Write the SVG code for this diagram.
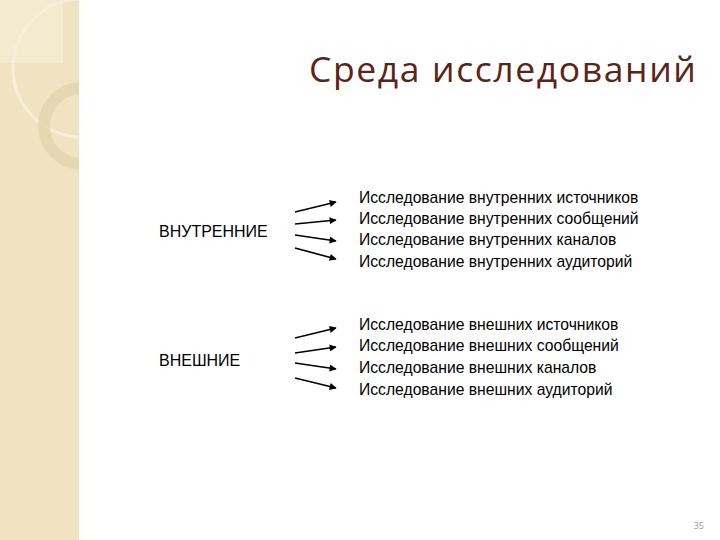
<svg xmlns="http://www.w3.org/2000/svg" width="720" height="540" viewBox="0 0 720 540">
<defs>
<marker id="ah" viewBox="0 0 10 10" refX="9" refY="5" markerWidth="9" markerHeight="7" markerUnits="userSpaceOnUse" orient="auto"><path d="M0,0 L10,5 L0,10 z" fill="#000"/></marker>
<clipPath id="sb"><rect x="0" y="0" width="79" height="540"/></clipPath>
</defs>
<style>
.item{font-family:"Liberation Sans",Arial,sans-serif;font-size:15.7px;fill:#000}
.lbl{font-family:"Liberation Sans",Arial,sans-serif;font-size:16px;fill:#000}
.arr{stroke:#000;stroke-width:1.6;fill:none;marker-end:url(#ah)}
</style>
<rect width="720" height="540" fill="#fff"/>
<g id="sidebar" clip-path="url(#sb)">
<rect x="0" y="0" width="79" height="540" fill="#efe3c1"/>
<rect x="0" y="0" width="63" height="63" fill="#f4ead0"/>
<circle cx="82" cy="68" r="69" fill="none" stroke="#f7efd9" stroke-width="3"/>
<circle cx="82" cy="126" r="38" fill="none" stroke="#e2d6b0" stroke-width="12" opacity="0.85"/>
</g>
<text x="309" y="82" font-family="'Open Sans','Noto Sans',sans-serif" font-size="35.5" letter-spacing="1.6" fill="#5a2418">Среда исследований</text>
<g id="internal"><text class="lbl" x="159" y="237">ВНУТРЕННИЕ</text></g>
<g id="external"><text class="lbl" x="159" y="366">ВНЕШНИЕ</text></g>
<g id="internal-items">
<text class="item" x="359" y="203">Исследование внутренних источников</text>
<text class="item" x="359" y="224">Исследование внутренних сообщений</text>
<text class="item" x="359" y="245">Исследование внутренних каналов</text>
<text class="item" x="359" y="267">Исследование внутренних аудиторий</text>
</g>
<g id="external-items">
<text class="item" x="359" y="330">Исследование внешних источников</text>
<text class="item" x="359" y="351">Исследование внешних сообщений</text>
<text class="item" x="359" y="373">Исследование внешних каналов</text>
<text class="item" x="359" y="395">Исследование внешних аудиторий</text>
</g>
<g id="connectors">
<line class="arr" x1="295" y1="212" x2="336" y2="202"/>
<line class="arr" x1="295" y1="224" x2="336" y2="220"/>
<line class="arr" x1="295" y1="235" x2="336" y2="241"/>
<line class="arr" x1="295" y1="248" x2="336" y2="259"/>
<line class="arr" x1="295" y1="338" x2="336" y2="328"/>
<line class="arr" x1="295" y1="353" x2="336" y2="347"/>
<line class="arr" x1="295" y1="363" x2="336" y2="369"/>
<line class="arr" x1="295" y1="378" x2="336" y2="388"/>
</g>
<text x="704" y="529" text-anchor="end" font-family="'Open Sans',sans-serif" font-size="9" fill="#999">35</text>
</svg>
